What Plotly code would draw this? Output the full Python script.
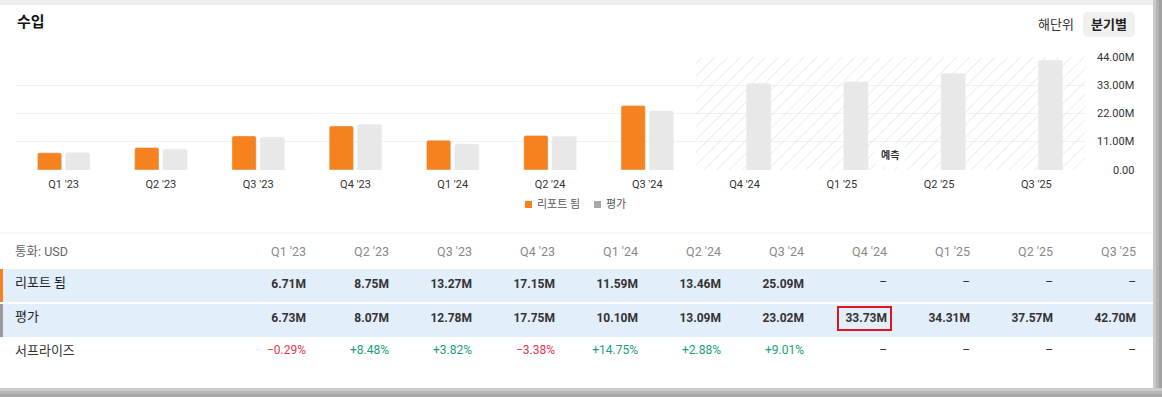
import plotly.graph_objects as go

# ---------------- data ----------------
quarters = ["Q1 '23", "Q2 '23", "Q3 '23", "Q4 '23", "Q1 '24", "Q2 '24", "Q3 '24",
            "Q4 '24", "Q1 '25", "Q2 '25", "Q3 '25"]
reported = [6.71, 8.75, 13.27, 17.15, 11.59, 13.46, 25.09, None, None, None, None]
estimate = [6.73, 8.07, 12.78, 17.75, 10.10, 13.09, 23.02, 33.73, 34.31, 37.57, 42.70]
surprise = [-0.29, 8.48, 3.82, -3.38, 14.75, 2.88, 9.01, None, None, None, None]
forecast_quarters = ["Q4 '24", "Q1 '25", "Q2 '25", "Q3 '25"]
y_ticks = [0, 11, 22, 33, 44]
row_labels = ["리포트 됨", "평가", "서프라이즈"]
series_names = ["리포트 됨", "평가"]

# ---------------- helpers ----------------
W, H = 1162, 397
def px(x):
    return x / W
def py(y):
    return 1 - y / H

FONT = "Roboto, 'Noto Sans CJK KR', sans-serif"
ORANGE = "#f5821f"
GREY_BAR = "#e8e8e8"
BLUE = "#e3eefb"

fig = go.Figure()

# hatched forecast zone
fig.add_trace(go.Bar(
    x=forecast_quarters, y=[y_ticks[-1]] * len(forecast_quarters), width=1,
    marker=dict(color="rgba(255,255,255,0)", line_width=0,
                pattern=dict(shape="/", fgcolor="#e0e0e0", bgcolor="rgba(255,255,255,0)",
                             size=9, solidity=0.09, fillmode="replace")),
    showlegend=False, hoverinfo="skip"))

fig.add_trace(go.Bar(x=quarters, y=reported, name=series_names[0], marker_color=ORANGE,
                     offset=-0.27, width=0.25, hoverinfo="skip", showlegend=False))
fig.add_trace(go.Bar(x=quarters, y=estimate, name=series_names[1], marker_color=GREY_BAR,
                     offset=0.02, width=0.25, hoverinfo="skip", showlegend=False))

# ---------------- table ----------------
def fmt_m(v):
    return "–" if v is None else f"<b>{v:.2f}M</b>"
def fmt_s(v):
    if v is None:
        return "–"
    return (f"+{v:.2f}%" if v >= 0 else f"−{abs(v):.2f}%")
def s_color(v):
    if v is None:
        return "#333333"
    return "#1a9d78" if v >= 0 else "#e8354f"

header_vals = ["", "통화: USD"] + quarters + [""]
cell_vals = [["", "", ""], row_labels]
cell_colors = [["#222"] * 3, ["#222", "#222", "#333"]]
for r, e, s in zip(reported, estimate, surprise):
    cell_vals.append([fmt_m(r), fmt_m(e), fmt_s(s)])
    cell_colors.append(["#333", "#333", s_color(s)])
cell_vals.append(["", "", ""])
cell_colors.append(["#222"] * 3)
ncol = len(header_vals)
fills = [[BLUE, BLUE, "white"]] * ncol
aligns = ["left", "left"] + ["right"] * (ncol - 2)
sizes = [12, 13] + [12] * (ncol - 2)

fig.add_trace(go.Table(
    domain=dict(x=[0, px(1153)], y=[py(373), py(239)]),
    columnwidth=[7, 224] + [83] * len(quarters) + [9],
    header=dict(values=header_vals, align=aligns, height=30,
                fill_color="white", line=dict(color="white", width=0),
                font=dict(family=FONT, size=12.5,
                          color=["#777", "#666"] + ["#888"] * len(quarters) + ["#777"])),
    cells=dict(values=cell_vals, align=aligns, height=34,
               fill_color=fills, line=dict(color="white", width=0),
               font=dict(family=FONT, size=sizes, color=cell_colors)),
))

# ---------------- layout ----------------
shapes = []
# page shadow strips
for (x0, x1, c) in [(1153, 1156, "#c9c9c9"), (1156, 1159, "#b3b3b3"), (1159, 1162, "#a0a0a0")]:
    shapes.append(dict(type="rect", xref="paper", yref="paper", x0=px(x0), x1=px(x1),
                       y0=0, y1=1, fillcolor=c, line_width=0, layer="below"))
for (y0, y1, c) in [(388, 391, "#cbcbcb"), (391, 394, "#b8b8b8"), (394, 397, "#a8a8a8")]:
    shapes.append(dict(type="rect", xref="paper", yref="paper", x0=0, x1=px(1162),
                       y0=py(y1), y1=py(y0), fillcolor=c, line_width=0, layer="below"))
shapes.append(dict(type="rect", xref="paper", yref="paper", x0=0, x1=px(1153),
                   y0=py(5), y1=1, fillcolor="#ededed", line_width=0, layer="below"))
# separator above table
shapes.append(dict(type="line", xref="paper", yref="paper", x0=0, x1=px(1153),
                   y0=py(233), y1=py(233), line=dict(color="#efefef", width=1)))
# white gap between the two highlighted rows
shapes.append(dict(type="rect", xref="paper", yref="paper", x0=0, x1=px(1153),
                   y0=py(304), y1=py(302), fillcolor="white", line_width=0))
# row left borders
shapes.append(dict(type="rect", xref="paper", yref="paper", x0=0, x1=px(3),
                   y0=py(302), y1=py(269), fillcolor=ORANGE, line_width=0))
shapes.append(dict(type="rect", xref="paper", yref="paper", x0=0, x1=px(3),
                   y0=py(337), y1=py(304), fillcolor="#9a9a9a", line_width=0))
# highlight box
shapes.append(dict(type="rect", xref="paper", yref="paper", x0=px(838), x1=px(891),
                   y0=py(330), y1=py(307), line=dict(color="#e0141e", width=2),
                   fillcolor="rgba(0,0,0,0)"))
# rounded button background
bx0, bx1, by0, by1, r = 1083, 1135, 12, 37, 5
path = (f"M {px(bx0 + r)} {py(by0)} L {px(bx1 - r)} {py(by0)} "
        f"Q {px(bx1)} {py(by0)} {px(bx1)} {py(by0 + r)} L {px(bx1)} {py(by1 - r)} "
        f"Q {px(bx1)} {py(by1)} {px(bx1 - r)} {py(by1)} L {px(bx0 + r)} {py(by1)} "
        f"Q {px(bx0)} {py(by1)} {px(bx0)} {py(by1 - r)} L {px(bx0)} {py(by0 + r)} "
        f"Q {px(bx0)} {py(by0)} {px(bx0 + r)} {py(by0)} Z")
shapes.append(dict(type="path", xref="paper", yref="paper", path=path,
                   fillcolor="#f0f0f0", line_width=0))
# legend swatches
for (x0, c) in [(525, ORANGE), (594, "#a8a8a8")]:
    shapes.append(dict(type="rect", xref="paper", yref="paper", x0=px(x0), x1=px(x0 + 7),
                       y0=py(208), y1=py(201), fillcolor=c, line_width=0))

annotations = [
    dict(text="<b>수입</b>", xref="paper", yref="paper", x=px(15), y=py(22),
         xanchor="left", yanchor="middle", showarrow=False,
         font=dict(family=FONT, size=15, color="#111")),
    dict(text="해단위", xref="paper", yref="paper", x=px(1056), y=py(25),
         xanchor="center", yanchor="middle", showarrow=False,
         font=dict(family=FONT, size=13, color="#333")),
    dict(text="<b>분기별</b>", xref="paper", yref="paper", x=px(1109), y=py(25),
         xanchor="center", yanchor="middle", showarrow=False,
         font=dict(family=FONT, size=13, color="#222")),
    dict(text="<b>예측</b>", xref="x", yref="y", x=8.5, y=5.8,
         xanchor="center", yanchor="middle", showarrow=False, bgcolor="white",
         borderpad=5, font=dict(family=FONT, size=10, color="#333")),
]
for (x0, name) in [(535, series_names[0]), (604, series_names[1])]:
    annotations.append(dict(text=name, xref="paper", yref="paper", x=px(x0), y=py(205),
                            xanchor="left", yanchor="middle", showarrow=False,
                            font=dict(family=FONT, size=11, color="#555")))
for v in y_ticks:
    annotations.append(dict(text=("0.00" if v == 0 else f"{v:.2f}M"), xref="paper", yref="y",
                            x=px(1136), y=v, xanchor="right", yanchor="middle",
                            showarrow=False, font=dict(family=FONT, size=11, color="#333")))

fig.update_layout(
    width=W, height=H, margin=dict(l=0, r=0, t=0, b=0),
    paper_bgcolor="white", plot_bgcolor="rgba(0,0,0,0)",
    barmode="overlay", barcornerradius=2, showlegend=False,
    font=dict(family=FONT, size=11, color="#333"),
    xaxis=dict(domain=[px(15), px(1085)], type="category", categoryorder="array",
               categoryarray=quarters, showgrid=False, showline=False, zeroline=False,
               ticks="", ticklabelstandoff=6, tickfont=dict(size=11, color="#333"),
               fixedrange=True),
    yaxis=dict(domain=[py(170), py(57)], range=[0, y_ticks[-1]], tickvals=y_ticks,
               showticklabels=False, showgrid=True, gridcolor="#f0f0f0", gridwidth=1,
               zeroline=False, showline=False, side="right", fixedrange=True),
    shapes=shapes, annotations=annotations, hovermode=False,
)

fig.write_html("out.html", config={"displayModeBar": False},
               post_script="document.body.style.margin='0';")
